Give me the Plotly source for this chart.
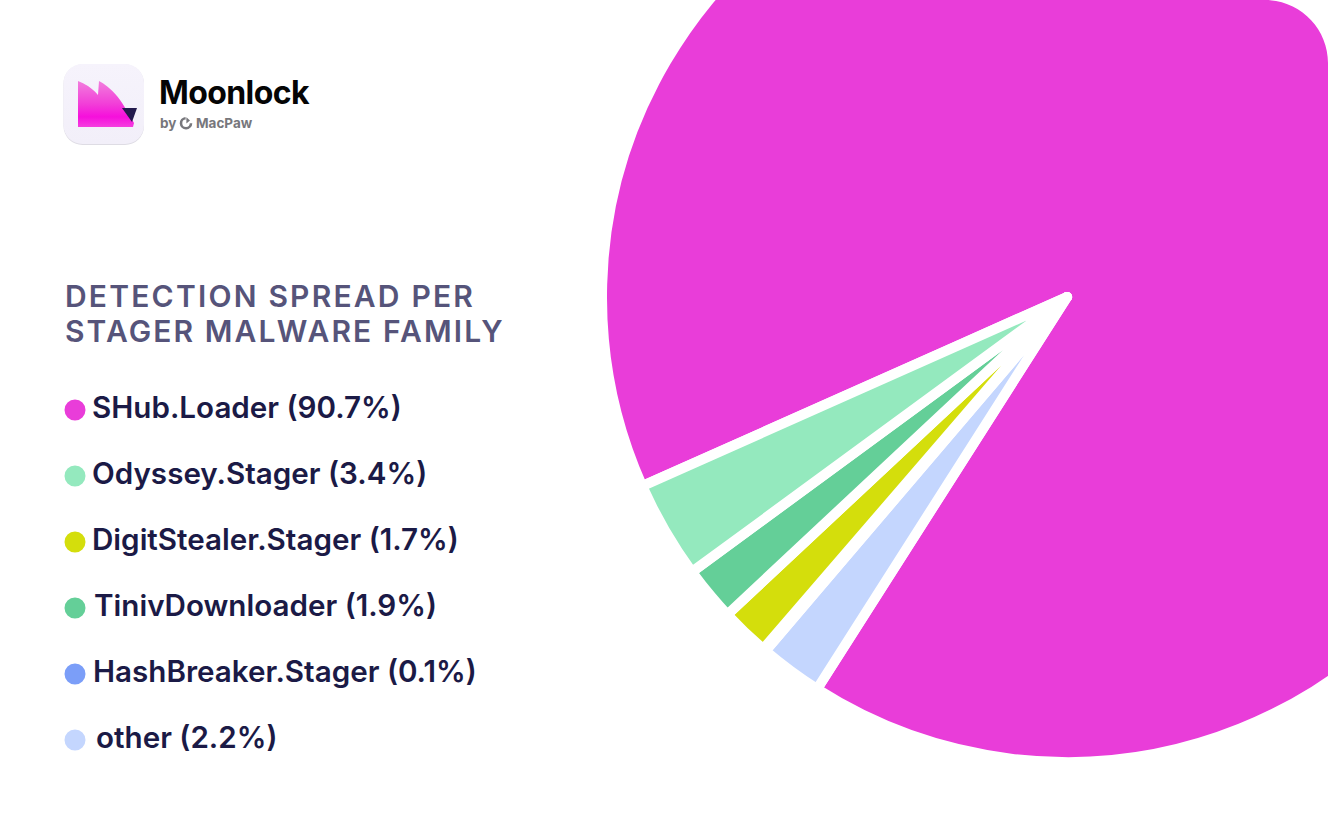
import base64
import plotly.graph_objects as go

# Detection share per stager family, in legend order
families = ["SHub.Loader", "Odyssey.Stager", "DigitStealer.Stager", "TinivDownloader", "HashBreaker.Stager", "other"]
shares = [90.7, 3.4, 1.7, 1.9, 0.1, 2.2]
colors = ["#E93DD9", "#94E9BE", "#D4DE0C", "#64CF98", "#7B9EF8", "#C4D6FE"]

# Clockwise order of the slices around the pie
slice_order = [0, 5, 4, 2, 3, 1]

title_lines = ["DETECTION SPREAD PER", "STAGER MALWARE FAMILY"]

# Visible page size and the extra canvas that lets the pie bleed off the top and right
PAGE_W, PAGE_H = 1328, 833
TOP_BLEED = 170
CANVAS_W, CANVAS_H = 1600, PAGE_H + TOP_BLEED

CX, CY, RADIUS = 1067, 297, 465
START_ANGLE = 246


def px(x):
    return x / CANVAS_W


def py(y):
    return 1 - (y + TOP_BLEED) / CANVAS_H


def text(x, y, s, size, color, weight):
    return dict(
        x=px(x), y=py(y), xref="paper", yref="paper", text=s, showarrow=False,
        xanchor="left", yanchor="middle", align="left",
        font=dict(family="Inter", size=size, color=color, weight=weight),
    )


annotations = [
    text(63, 296, title_lines[0], 30, "#56547A", 600),
    text(63, 331, title_lines[1], 30, "#56547A", 600),
    text(157, 92, "Moonlock", 32, "#050505", 700),
    text(158, 123, "by", 13.5, "#77777C", 700),
    text(194, 123, "MacPaw", 13.5, "#77777C", 700),
]

shapes = []
legend_text_x = [90, 90, 90, 92, 91, 94]
for row, (name, share, color) in enumerate(zip(families, shares, colors)):
    y = 408 + 66 * row
    annotations.append(text(legend_text_x[row], y - 1, f"{name} ({share}%)", 29.6, "#1B1A46", 600))
    shapes.append(dict(
        type="circle", xref="paper", yref="paper", fillcolor=color, line_width=0,
        x0=px(64.5), x1=px(85.5), y0=py(y + 12.5), y1=py(y - 8.5),
    ))

# White notch that rounds the top right corner of the card
corner = 63
k = corner * 0.5523
shapes.append(dict(
    type="path", xref="paper", yref="paper", fillcolor="#FFFFFF", line_width=0, layer="above",
    path=(
        f"M {px(PAGE_W - corner)} {py(-2)} "
        f"L {px(PAGE_W - corner)} {py(0)} "
        f"C {px(PAGE_W - corner + k)} {py(0)} {px(PAGE_W)} {py(corner - k)} {px(PAGE_W)} {py(corner)} "
        f"L {px(PAGE_W + 2)} {py(corner)} L {px(PAGE_W + 2)} {py(-2)} Z"
    ),
))

# Brand icon and the small MacPaw ring, as vector artwork
icon_svg = """<svg xmlns='http://www.w3.org/2000/svg' viewBox='0 0 84 84' width='84' height='84'>
<defs>
<linearGradient id='g' x1='0' y1='0' x2='0' y2='1'>
<stop offset='0' stop-color='#F27FDD'/><stop offset='0.5' stop-color='#F23ED8'/>
<stop offset='0.78' stop-color='#F60FDC'/><stop offset='1' stop-color='#F53FDF'/>
</linearGradient>
<linearGradient id='b' x1='0' y1='0' x2='0' y2='1'>
<stop offset='0' stop-color='#F6F3FC'/><stop offset='1' stop-color='#F2EFF9'/>
</linearGradient>
</defs>
<rect x='1.5' y='1.5' width='80.5' height='80.5' rx='19' fill='#DEDCE4'/>
<rect x='1.5' y='1' width='80.5' height='80' rx='19' fill='url(#b)'/>
<path d='M16 18 C24 21 31 26 36 32 L37 18 C48 24 56 33 62 43 L72 60 L71 64 L16 64 Z' fill='url(#g)'/>
<path d='M60 45 L75 45 L70 59 Z' fill='#231A4D'/>
</svg>"""
ring_svg = """<svg xmlns='http://www.w3.org/2000/svg' viewBox='0 0 14 14' width='14' height='14'>
<path d='M6.6 2.2 A5 5 0 1 0 12 7.2' fill='none' stroke='#77777C' stroke-width='2.6'/>
<path d='M7.4 1.2 L7.4 7.4 L11 4.4 Z' fill='#77777C'/>
</svg>"""


def data_uri(svg):
    return "data:image/svg+xml;base64," + base64.b64encode(svg.encode()).decode()


images = [
    dict(source=data_uri(icon_svg), xref="paper", yref="paper", x=px(62), y=py(63),
         sizex=84 / CANVAS_W, sizey=84 / CANVAS_H, xanchor="left", yanchor="top",
         sizing="stretch", layer="above"),
    dict(source=data_uri(ring_svg), xref="paper", yref="paper", x=px(179), y=py(116),
         sizex=14 / CANVAS_W, sizey=14 / CANVAS_H, xanchor="left", yanchor="top",
         sizing="stretch", layer="above"),
]

fig = go.Figure(go.Pie(
    labels=[families[i] for i in slice_order],
    values=[shares[i] for i in slice_order],
    sort=False,
    direction="clockwise",
    rotation=START_ANGLE,
    textinfo="none",
    hoverinfo="skip",
    showlegend=False,
    marker=dict(colors=[colors[i] for i in slice_order], line=dict(color="#FFFFFF", width=10)),
    domain=dict(
        x=[px(CX - RADIUS), px(CX + RADIUS)],
        y=[py(CY + RADIUS), py(CY - RADIUS)],
    ),
))

fig.update_layout(
    width=CANVAS_W, height=CANVAS_H,
    margin=dict(l=0, r=0, t=0, b=0),
    paper_bgcolor="#FFFFFF", plot_bgcolor="#FFFFFF",
    annotations=annotations, shapes=shapes, images=images,
)

# Shift the canvas so the pie runs off the page, and track out the heading text
post_script = f"""
document.documentElement.style.overflow = 'hidden';
document.body.style.overflow = 'hidden';
document.body.style.margin = '0';
var gd = document.getElementById('{{plot_id}}');
gd.style.position = 'fixed';
gd.style.left = '0px';
gd.style.top = '-{TOP_BLEED}px';
var spacing = {{0: '2.2px', 1: '2.1px', 2: '-0.6px'}};
gd.querySelectorAll('.annotation').forEach(function (a) {{
  var s = spacing[a.getAttribute('data-index')];
  if (s) {{ a.querySelector('text').style.letterSpacing = s; }}
}});
"""

fig.write_html(
    "out.html",
    config=dict(displayModeBar=False, staticPlot=True),
    post_script=post_script,
    default_width=f"{CANVAS_W}px",
    default_height=f"{CANVAS_H}px",
)
